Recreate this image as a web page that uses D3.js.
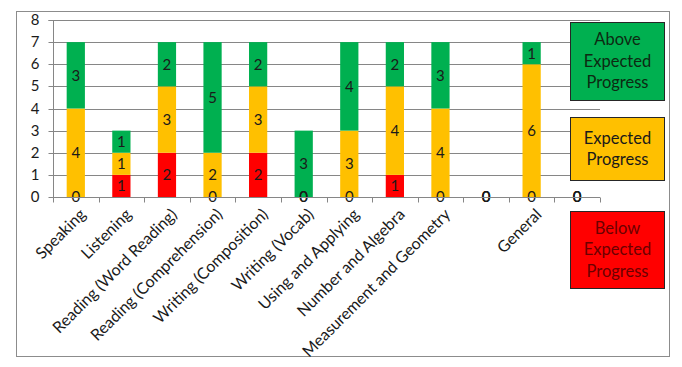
<!DOCTYPE html>
<html><head><meta charset="utf-8">
<script src="https://cdn.jsdelivr.net/npm/d3@7"></script>
<style>body{margin:0;background:#fff}svg{display:block}text{font-family:Lato,"Open Sans",sans-serif}</style>
</head><body><svg id="c" width="682" height="367"></svg>
<script>
const categories = ["Speaking","Listening","Reading (Word Reading)","Reading (Comprehension)","Writing (Composition)","Writing (Vocab)","Using and Applying","Number and Algebra","Measurement and Geometry","","General",""];
const below =    [0,1,2,0,2,0,0,1,0,0,0,0];
const expected = [4,1,3,2,3,0,3,4,4,0,6,0];
const above =    [3,1,2,5,2,3,4,2,3,0,1,0];
const yTicks = [0,1,2,3,4,5,6,7,8];
const legendItems = [
  {lines:["Above","Expected","Progress"], key:"above"},
  {lines:["Expected","Progress"], key:"expected"},
  {lines:["Below","Expected","Progress"], key:"below"}
];
const colors = {below:"#FF0000", expected:"#FFC000", above:"#00B050"};
const textColors = {below:"#6b0000", expected:"#1a1a1a", above:"#0d2a12"};

const svg = d3.select("#c");
svg.append("rect").attr("x",16.5).attr("y",11.5).attr("width",653).attr("height",345)
  .attr("fill","#fff").attr("stroke","#8c8c8c");

const x = d3.scaleBand().domain(d3.range(categories.length)).range([53,600]).paddingInner(0.6).paddingOuter(0.3);
const xb = d3.scaleBand().domain(d3.range(categories.length)).range([53,600]);
const y = d3.scaleLinear().domain([0,8]).range([197,20]);

// grid
svg.append("g").selectAll("line").data(yTicks.filter(d=>d>0)).join("line")
  .attr("x1",53).attr("x2",600).attr("y1",d=>Math.round(y(d))+0.5).attr("y2",d=>Math.round(y(d))+0.5)
  .attr("stroke","#868686");

const keys = ["below","expected","above"];
const rows = categories.map((c,i)=>({i, below:below[i], expected:expected[i], above:above[i]}));
const stack = d3.stack().keys(keys)(rows);

const g = svg.append("g");
stack.forEach(s=>{
  g.append("g").selectAll("rect").data(s).join("rect")
    .attr("x",d=>x(d.data.i)).attr("width",x.bandwidth())
    .attr("y",d=>y(d[1])).attr("height",d=>y(d[0])-y(d[1]))
    .attr("fill",colors[s.key]);
});

// axes
const yAxis = svg.append("g").attr("transform","translate(53.5,0)")
  .call(d3.axisLeft(y).tickValues(yTicks).tickSize(5).tickPadding(9).tickFormat(d3.format("d")));
yAxis.select(".domain").attr("stroke","#868686").attr("d","M-5,"+(Math.round(y(8))+0.5)+"H0V"+(Math.round(y(0))+0.5));
yAxis.selectAll(".tick line").attr("stroke","#868686");
yAxis.selectAll(".tick").attr("transform",d=>"translate(0,"+(Math.round(y(d))+0.5)+")");
yAxis.selectAll("text").attr("font-size",15).attr("fill","#1a1a1a").attr("font-family","Lato,sans-serif");

const xAxisG = svg.append("g").attr("transform","translate(0,"+(Math.round(y(0))+0.5)+")");
xAxisG.append("line").attr("x1",53).attr("x2",600).attr("stroke","#868686");
xAxisG.selectAll(".tk").data(d3.range(categories.length+1)).join("line").attr("class","tk")
  .attr("x1",d=>Math.round(53+d*xb.bandwidth())+0.5).attr("x2",d=>Math.round(53+d*xb.bandwidth())+0.5)
  .attr("y1",0).attr("y2",5).attr("stroke","#868686");
xAxisG.selectAll(".lbl").data(categories).join("text").attr("class","lbl")
  .attr("transform",(d,i)=>"translate("+(xb(i)+xb.bandwidth()/2+7)+",14) rotate(-45)")
  .attr("text-anchor","end").attr("dy","0.35em").attr("font-size",16).attr("fill","#1a1a1a").text(d=>d);

// data labels
stack.forEach(s=>{
  g.append("g").selectAll("text").data(s).join("text")
    .attr("x",d=>x(d.data.i)+x.bandwidth()/2).attr("y",d=>(y(d[0])+y(d[1]))/2)
    .attr("text-anchor","middle").attr("dy","0.36em").attr("font-size",15).attr("fill","#1a1a1a")
    .text(d=>d.data[s.key]);
});

// legend boxes
const boxes = [{y:22,h:78},{y:117,h:63},{y:211,h:77}];
legendItems.forEach((it,k)=>{
  const b = boxes[k];
  const gg = svg.append("g");
  gg.append("rect").attr("x",570.5).attr("y",b.y+0.5).attr("width",94).attr("height",b.h)
    .attr("fill",colors[it.key]).attr("stroke","#262626");
  const n = it.lines.length, lh = 21.5;
  gg.selectAll("text").data(it.lines).join("text")
    .attr("x",617.5).attr("y",(d,j)=>b.y+b.h/2+(j-(n-1)/2)*lh)
    .attr("dy","0.36em").attr("text-anchor","middle").attr("font-size",16.5).attr("fill",textColors[it.key])
    .text(d=>d);
});
</script></body></html>
